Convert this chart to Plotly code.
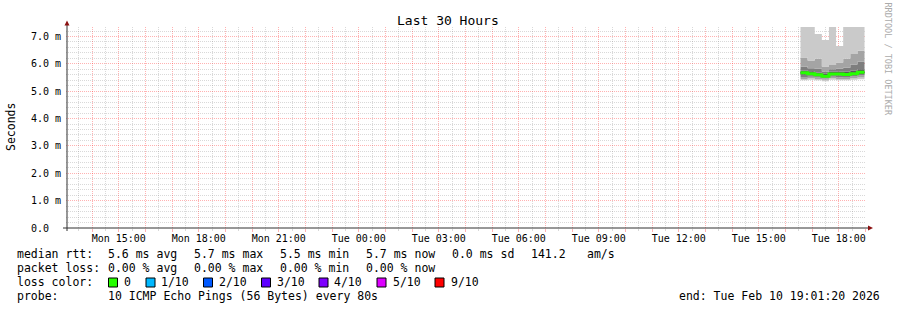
import plotly.graph_objects as go
import pandas as pd

# ---------------- data ----------------
TIMES = ["2026-02-10 16:34:00", "2026-02-10 16:50:00", "2026-02-10 17:06:00",
         "2026-02-10 17:22:00", "2026-02-10 17:38:00", "2026-02-10 17:54:00",
         "2026-02-10 18:10:00", "2026-02-10 18:26:00", "2026-02-10 18:42:00",
         "2026-02-10 18:58:00"]  # block starts + end of last block

# sorted ping rtts per block (ms), lowest to highest
P1 = [5.40, 5.42, 5.40, 5.36, 5.42, 5.40, 5.40, 5.42, 5.44]
P2 = [5.45, 5.47, 5.45, 5.42, 5.47, 5.45, 5.45, 5.47, 5.50]
P3 = [5.52, 5.53, 5.50, 5.47, 5.53, 5.51, 5.52, 5.54, 5.57]
P4 = [5.60, 5.58, 5.55, 5.50, 5.58, 5.57, 5.56, 5.59, 5.63]
P5 = [5.65, 5.62, 5.58, 5.53, 5.61, 5.61, 5.59, 5.62, 5.67]
P6 = [5.69, 5.66, 5.62, 5.57, 5.65, 5.65, 5.63, 5.66, 5.71]
P7 = [5.76, 5.73, 5.68, 5.64, 5.72, 5.72, 5.71, 5.75, 5.80]
P8 = [5.90, 5.84, 5.82, 5.72, 5.80, 5.82, 5.86, 5.98, 6.08]
P9 = [6.23, 6.12, 6.19, 5.90, 5.96, 6.05, 6.19, 6.36, 6.48]
P10 = [7.90, 7.90, 7.09, 6.87, 7.90, 6.65, 7.90, 7.90, 7.90]
MEDIAN = [5.67, 5.64, 5.60, 5.55, 5.63, 5.63, 5.61, 5.64, 5.69]

Y_TICK_VALUES = [0, 1, 2, 3, 4, 5, 6, 7]
Y_TICK_LABELS = ["0.0\u00a0\u00a0", "1.0 m", "2.0 m", "3.0 m", "4.0 m",
                 "5.0 m", "6.0 m", "7.0 m"]

X_LABEL_TIMES = ["2026-02-09 15:00", "2026-02-09 18:00", "2026-02-09 21:00",
                 "2026-02-10 00:00", "2026-02-10 03:00", "2026-02-10 06:00",
                 "2026-02-10 09:00", "2026-02-10 12:00", "2026-02-10 15:00",
                 "2026-02-10 18:00"]
X_LABELS = ["Mon 15:00", "Mon 18:00", "Mon 21:00", "Tue 00:00", "Tue 03:00",
            "Tue 06:00", "Tue 09:00", "Tue 12:00", "Tue 15:00", "Tue 18:00"]

X_START = "2026-02-09 13:01:20"
X_END = "2026-02-10 19:01:20"

LOSS_LABELS = ["0", "1/10", "2/10", "3/10", "4/10", "5/10", "9/10"]
LOSS_COLORS = ["#26ff00", "#00b8ff", "#0059ff", "#5e00ff", "#7e00ff", "#dd00ff", "#ff0000"]

STATS_RTT = ["5.6 ms avg", "5.7 ms max", "5.5 ms min", "5.7 ms now", "0.0 ms sd"]
STATS_LOSS = ["0.00 % avg", "0.00 % max", "0.00 % min", "0.00 % now"]
AMS = "141.2"
PROBE = "10 ICMP Echo Pings (56 Bytes) every 80s"
END_TEXT = "end: Tue Feb 10 19:01:20 2026"

# ---------------- layout geometry ----------------
W, H = 897, 310
L, R, T, B = 66, 31, 27, 82
PW = W - L - R
PH = H - T - B
BOTTOM = H - B


def px(x):
    return (x - L) / PW


def py(y):
    return (BOTTOM - y) / PH


MONO = "DejaVu Sans Mono"

fig = go.Figure()

# smoke layers
pings = [P1, P2, P3, P4, P5, P6, P7, P8, P9, P10]
grays = ["#cacaca", "#a4a4a4", "#7e7e7e", "#585858", "#323232",
         "#585858", "#7e7e7e", "#a4a4a4", "#cacaca"]


def ext(v):
    return list(v) + [v[-1]]


fig.add_trace(go.Scatter(x=TIMES, y=ext(P1), mode="lines", line=dict(width=0, shape="hv"),
                         hoverinfo="skip", showlegend=False))
for i in range(1, 10):
    fig.add_trace(go.Scatter(x=TIMES, y=ext(pings[i]), mode="lines",
                             line=dict(width=0, shape="hv"), fill="tonexty",
                             fillcolor=grays[i - 1], hoverinfo="skip", showlegend=False))

# median
fig.add_trace(go.Scatter(x=TIMES, y=ext(MEDIAN), mode="lines",
                         line=dict(width=1, shape="hv", color="#202020"),
                         hoverinfo="skip", showlegend=False))
fig.add_trace(go.Scatter(x=TIMES, y=ext(MEDIAN), mode="lines",
                         line=dict(width=3, shape="hv", color=LOSS_COLORS[0]),
                         hoverinfo="skip", showlegend=False))

# x ticks: every hour major grid, labels every 3 hours, half hours minor
hours = pd.date_range("2026-02-09 14:00", "2026-02-10 19:00", freq="h")
halves = pd.date_range("2026-02-09 13:30", "2026-02-10 18:30", freq="h")
lab_map = {pd.Timestamp(t): s for t, s in zip(X_LABEL_TIMES, X_LABELS)}
tickvals = [h.strftime("%Y-%m-%d %H:%M:%S") for h in hours]
ticktext = [lab_map.get(h, "") for h in hours]
minor_x = [h.strftime("%Y-%m-%d %H:%M:%S") for h in halves]
minor_y = [k / 5 for k in range(1, 37) if k % 5 != 0]

MAJ = "rgba(255,0,0,0.30)"
MIN = "rgba(128,128,128,0.30)"

fig.update_xaxes(
    type="date", range=[X_START, X_END], tickmode="array",
    tickvals=tickvals, ticktext=ticktext,
    showgrid=True, gridcolor=MAJ, griddash="1px,1px", gridwidth=1,
    ticks="outside", ticklen=3, tickcolor=MAJ, ticklabelstandoff=-2,
    tickfont=dict(family=MONO, size=10, color="#000000"),
    showline=False, zeroline=False,
    minor=dict(tickmode="array", tickvals=minor_x,
               showgrid=True, gridcolor=MIN, griddash="1px,1px", gridwidth=1,
               ticks="outside", ticklen=2, tickcolor=MIN),
)
fig.update_yaxes(
    range=[0, PH / 27.36], tickmode="array", tickvals=Y_TICK_VALUES, ticktext=Y_TICK_LABELS,
    showgrid=True, gridcolor=MAJ, griddash="1px,1px", gridwidth=1,
    ticks="", ticklabelstandoff=4,
    tickfont=dict(family=MONO, size=10, color="#000000"),
    showline=False, zeroline=False,
    minor=dict(tickmode="array", tickvals=minor_y, showgrid=True,
               gridcolor=MIN, griddash="1px,1px", gridwidth=1),
)

shapes = []
AX = "#303030"
ARROW = "#8b1010"
# axes
shapes.append(dict(type="line", xref="paper", yref="paper", x0=px(63), x1=px(868),
                   y0=0, y1=0, line=dict(color=AX, width=1)))
shapes.append(dict(type="line", xref="paper", yref="paper", x0=px(67), x1=px(67),
                   y0=py(231), y1=py(24), line=dict(color=AX, width=1)))
# arrows
shapes.append(dict(type="path", xref="paper", yref="paper",
                   path=f"M {px(64.5)} {py(25.5)} L {px(69.5)} {py(25.5)} L {px(67)} {py(20.5)} Z",
                   fillcolor=ARROW, line=dict(width=0)))
shapes.append(dict(type="path", xref="paper", yref="paper",
                   path=f"M {px(868)} {py(225.5)} L {px(868)} {py(230.5)} L {px(873)} {py(228)} Z",
                   fillcolor=ARROW, line=dict(width=0)))

# legend boxes
box_x = [108.5, 146, 203.5, 261.5, 319, 377, 435]
lab_x = [123.3, 160.3, 218.3, 276, 333.3, 391.7, 450]
for bx, c in zip(box_x, LOSS_COLORS):
    shapes.append(dict(type="rect", xref="paper", yref="paper",
                       x0=px(bx), x1=px(bx + 9), y0=py(287), y1=py(278),
                       fillcolor=c, line=dict(color="#000000", width=1)))

ann = []


def text(x, y, s, size=11.5, color="#000000", anchor="left", angle=0, family=MONO):
    ann.append(dict(x=px(x), y=py(y), xref="paper", yref="paper", text=s,
                    showarrow=False, xanchor=anchor, yanchor="middle",
                    textangle=angle, borderpad=0,
                    font=dict(family=family, size=size, color=color)))


text(448, 20, "Last 30 Hours", size=13, anchor="center")
text(11, 127, "Seconds", size=11.5, anchor="center", angle=-90)
text(887.5, 59, "RRDTOOL / TOBI OETIKER", size=8.5, color="#aaaaaa", anchor="center", angle=90)

row_y = [254.3, 268.3, 282.3, 296.3]
col_x = [107.3, 193.3, 279.3, 365.3, 451]
text(16, row_y[0], "median rtt:")
for x, s in zip(col_x, STATS_RTT):
    text(x, row_y[0], s)
text(530, row_y[0], AMS)
text(586, row_y[0], "am/s")
text(16, row_y[1], "packet loss:")
for x, s in zip(col_x, STATS_LOSS):
    text(x, row_y[1], s)
text(16, row_y[2], "loss color:")
for x, s in zip(lab_x, LOSS_LABELS):
    text(x, row_y[2], s)
text(16, row_y[3], "probe:")
text(107.3, row_y[3], PROBE)
text(880.5, row_y[3], END_TEXT, anchor="right")

fig.update_layout(
    width=W, height=H, margin=dict(l=L, r=R, t=T, b=B, pad=0),
    paper_bgcolor="#ffffff", plot_bgcolor="#ffffff",
    shapes=shapes, annotations=ann, showlegend=False,
    font=dict(family=MONO),
)

fig.write_html("out.html", config={"displayModeBar": False})
